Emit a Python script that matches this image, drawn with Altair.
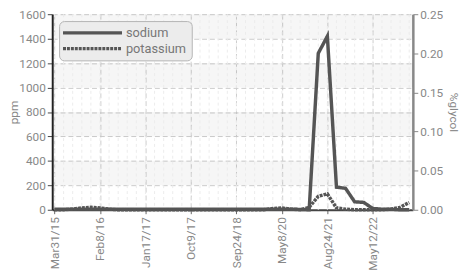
import altair as alt
import pandas as pd

tick_labels = ["Mar31/15", "Feb8/16", "Jan17/17", "Oct9/17", "Sep24/18", "May8/20", "Aug24/21", "May12/22"]
idx = list(range(40))
sodium = [5, 5, 5, 5, 5, 5, 5, 5, 5, 5,
          5, 5, 5, 5, 5, 5, 5, 5, 5, 5,
          5, 5, 5, 5, 5, 5, 5, 3, 0, 1280,
          1420, 185, 175, 65, 60, 10, 5, 5, 0, 0]
potassium = [0, 0, 5, 15, 20, 15, 5, 0, 0, 0,
             0, 0, 0, 0, 0, 0, 0, 0, 0, 0,
             0, 0, 0, 0, 10, 15, 5, 0, 20, 110,
             130, 15, 5, 0, 0, 0, 0, 5, 20, 60]
band_lo = [200, 600, 1000, 1400]
band_hi = [400, 800, 1200, 1600]
glycol_ticks = [0, 0.05, 0.10, 0.15, 0.20, 0.25]

FONT = "Roboto"
GRAY = "#888888"
LINE = "#555555"

df = pd.DataFrame({
    "i": idx * 2,
    "value": sodium + potassium,
    "series": ["sodium"] * 40 + ["potassium"] * 40,
})
bands = pd.DataFrame({"value": band_lo, "hi": band_hi})
minor = pd.DataFrame({"i": idx})
glycol = pd.DataFrame({"g": [0, 0.25]})

label_arr = "[" + ",".join("'" + t + "'" for t in tick_labels) + "]"

xscale = alt.Scale(domain=[-0.25, 39.4], nice=False, zero=False)
xaxis = alt.Axis(
    values=list(range(0, 40, 5)), labelExpr=label_arr + "[round(datum.value/5)]",
    labelAngle=-90, labelColor=GRAY, labelFont=FONT, labelFontSize=12, labelPadding=3,
    tickColor="#666", tickSize=4, domainColor="#444", domainWidth=2,
    grid=True, gridDash=[5, 3], gridColor="#cccccc", title=None,
)
yscale = alt.Scale(domain=[0, 1600], nice=False)
yaxis = alt.Axis(
    values=list(range(0, 1601, 200)), format="d", labelColor=GRAY, labelFont=FONT, labelFontSize=12,
    tickColor="#444", tickSize=5, domainColor="#222", domainWidth=2,
    grid=True, gridDash=[5, 3], gridColor="#cccccc",
    title="ppm", titleColor=GRAY, titleFont=FONT, titleFontSize=12,
    titleFontWeight="normal", titleX=-44, titleY=99.5, titleBaseline="top", titleAlign="center",
)

X = alt.X("i:Q", scale=xscale, axis=xaxis)
Y = alt.Y("value:Q", scale=yscale, axis=yaxis)

band_layer = alt.Chart(bands).mark_rect(color="#000000", opacity=0.035).encode(
    x=alt.value(0), x2=alt.value("width"),
    y=Y, y2="hi:Q",
)
minor_layer = alt.Chart(minor).mark_rule(color="#ececec", strokeDash=[3, 3], strokeWidth=1).encode(
    x=X,
)
line_layer = alt.Chart(df).mark_line(strokeWidth=3.5).encode(
    x=X, y=Y,
    color=alt.Color("series:N", scale=alt.Scale(domain=["sodium", "potassium"], range=[LINE, LINE]),
                    legend=alt.Legend(title=None)),
    strokeDash=alt.StrokeDash("series:N", scale=alt.Scale(domain=["sodium", "potassium"], range=[[1, 0], [3, 1]]),
                              legend=alt.Legend(title=None)),
    order=alt.Order("i:Q"),
)
ppm = alt.layer(band_layer, minor_layer, line_layer)

glycol_layer = alt.Chart(glycol).mark_point(opacity=0).encode(
    y=alt.Y("g:Q", scale=alt.Scale(domain=[0, 0.25], nice=False),
            axis=alt.Axis(orient="right", values=glycol_ticks, format=".2f",
                          labelColor=GRAY, labelFont=FONT, labelFontSize=12,
                          tickColor="#888", tickSize=5, domainColor="#888", domainWidth=2.5,
                          grid=False, title="%glycol", titleColor=GRAY, titleFont=FONT,
                          titleFontSize=12, titleFontWeight="normal", titlePadding=4)),
)

chart = alt.layer(ppm, glycol_layer).resolve_scale(y="independent").properties(
    width=367, height=199,
    autosize=alt.AutoSizeParams(type="none"),
    padding={"left": 45, "top": 4, "right": 50, "bottom": 60},
).configure_view(stroke=None).configure_legend(
    orient="none", legendX=7, legendY=7,
    fillColor="#ececec", strokeColor="#b5b5b5", cornerRadius=5, padding=5,
    symbolType="M-6,0H6", symbolSize=100, symbolStrokeWidth=3.5, symbolOffset=22,
    labelOffset=27, labelFont=FONT, labelFontSize=13, labelColor="#777777", rowPadding=2,
)

chart.save("out.html", embed_options={"renderer": "svg", "actions": False})
